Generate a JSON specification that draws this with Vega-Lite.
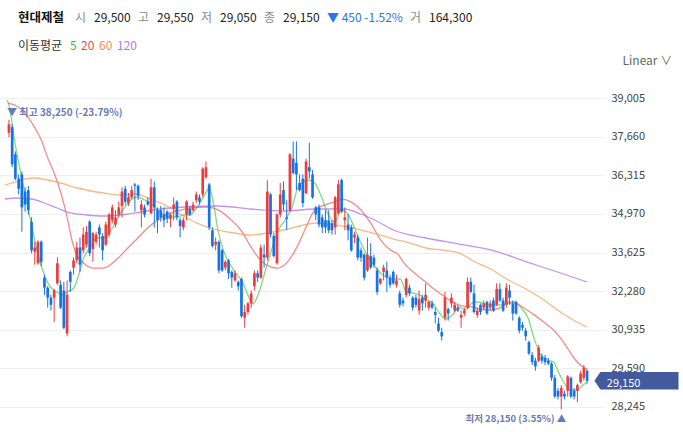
{
  "$schema": "https://vega.github.io/schema/vega-lite/v6.json",
  "description": "현대제철 일봉 차트와 이동평균선",
  "width": 605,
  "height": 350,
  "autosize": {"type": "none"},
  "padding": {"left": 0, "top": 75, "right": 78, "bottom": 7},
  "background": "white",
  "config": {
    "view": {"stroke": null},
    "font": "Noto Sans CJK KR"
  },
  "datasets": {
    "candles": [
      {"d":0,"o":37800,"h":38250,"l":37650,"c":38100},
      {"d":1,"o":38000,"h":38100,"l":36600,"c":36700},
      {"d":2,"o":37050,"h":37150,"l":36150,"c":36200},
      {"d":3,"o":36200,"h":36350,"l":35650,"c":35850},
      {"d":4,"o":36350,"h":36450,"l":34350,"c":35200},
      {"d":5,"o":35750,"h":35900,"l":35050,"c":35300},
      {"d":6,"o":35800,"h":35950,"l":34950,"c":35100},
      {"d":7,"o":34700,"h":34850,"l":33600,"c":33700},
      {"d":8,"o":33650,"h":34000,"l":33200,"c":33800},
      {"d":9,"o":33250,"h":34050,"l":33200,"c":34000},
      {"d":10,"o":34000,"h":34050,"l":33150,"c":33300},
      {"d":11,"o":32750,"h":32850,"l":32150,"c":32400},
      {"d":12,"o":32400,"h":32450,"l":31700,"c":32050},
      {"d":13,"o":32050,"h":32150,"l":31600,"c":31800},
      {"d":14,"o":32050,"h":32350,"l":31200,"c":32300},
      {"d":15,"o":32550,"h":33450,"l":32500,"c":33250},
      {"d":16,"o":32500,"h":32650,"l":31650,"c":31700},
      {"d":17,"o":32300,"h":32600,"l":30950,"c":31000},
      {"d":18,"o":30800,"h":32650,"l":30700,"c":32150},
      {"d":19,"o":32950,"h":33000,"l":32250,"c":32600},
      {"d":20,"o":33100,"h":33450,"l":32850,"c":33350},
      {"d":21,"o":33350,"h":34000,"l":33250,"c":33800},
      {"d":22,"o":33800,"h":34150,"l":32950,"c":33200},
      {"d":23,"o":33700,"h":34500,"l":33600,"c":34250},
      {"d":24,"o":33900,"h":34550,"l":33800,"c":34350},
      {"d":25,"o":34700,"h":34750,"l":33500,"c":33600},
      {"d":26,"o":33750,"h":34350,"l":33300,"c":34300},
      {"d":27,"o":34000,"h":34350,"l":33900,"c":34250},
      {"d":28,"o":34500,"h":34600,"l":33800,"c":34250},
      {"d":29,"o":34200,"h":34300,"l":33350,"c":33700},
      {"d":30,"o":33900,"h":34700,"l":33850,"c":34600},
      {"d":31,"o":34250,"h":35000,"l":34150,"c":34950},
      {"d":32,"o":34750,"h":35300,"l":34650,"c":35200},
      {"d":33,"o":34600,"h":35100,"l":34500,"c":34850},
      {"d":34,"o":34950,"h":35400,"l":34850,"c":35200},
      {"d":35,"o":35250,"h":35900,"l":34850,"c":35750},
      {"d":36,"o":35850,"h":35950,"l":35300,"c":35400},
      {"d":37,"o":35350,"h":35700,"l":35250,"c":35550},
      {"d":38,"o":35550,"h":35950,"l":35500,"c":35800},
      {"d":39,"o":36000,"h":36050,"l":35050,"c":35950},
      {"d":40,"o":35950,"h":36000,"l":35450,"c":35600},
      {"d":41,"o":35100,"h":35450,"l":34500,"c":35300},
      {"d":42,"o":35200,"h":35300,"l":34850,"c":34950},
      {"d":43,"o":35400,"h":35550,"l":35250,"c":35300},
      {"d":44,"o":35000,"h":36200,"l":34950,"c":35900},
      {"d":45,"o":35900,"h":36100,"l":34500,"c":35200},
      {"d":46,"o":35100,"h":35200,"l":34300,"c":34750},
      {"d":47,"o":35100,"h":35250,"l":34700,"c":34850},
      {"d":48,"o":34950,"h":35200,"l":34500,"c":34750},
      {"d":49,"o":35050,"h":35100,"l":34650,"c":34800},
      {"d":50,"o":34800,"h":35000,"l":34500,"c":34950},
      {"d":51,"o":35150,"h":35550,"l":34750,"c":35300},
      {"d":52,"o":35400,"h":35450,"l":34750,"c":34850},
      {"d":53,"o":34750,"h":34850,"l":34150,"c":34550},
      {"d":54,"o":34500,"h":34850,"l":34400,"c":34750},
      {"d":55,"o":34950,"h":35450,"l":34750,"c":35400},
      {"d":56,"o":35150,"h":35250,"l":34900,"c":34950},
      {"d":57,"o":35100,"h":35400,"l":35050,"c":35300},
      {"d":58,"o":35450,"h":35750,"l":35350,"c":35650},
      {"d":59,"o":35550,"h":35650,"l":35300,"c":35400},
      {"d":60,"o":35650,"h":36600,"l":35550,"c":36550},
      {"d":61,"o":36250,"h":36800,"l":36200,"c":36600},
      {"d":62,"o":36000,"h":36050,"l":34400,"c":34500},
      {"d":63,"o":34400,"h":34500,"l":33800,"c":33850},
      {"d":64,"o":33900,"h":34150,"l":33700,"c":34000},
      {"d":65,"o":34000,"h":34050,"l":32900,"c":33000},
      {"d":66,"o":33700,"h":33750,"l":32950,"c":33000},
      {"d":67,"o":33100,"h":33350,"l":33000,"c":33300},
      {"d":68,"o":33350,"h":33400,"l":32700,"c":32900},
      {"d":69,"o":32950,"h":33000,"l":32400,"c":32750},
      {"d":70,"o":32650,"h":33000,"l":32600,"c":32900},
      {"d":71,"o":32600,"h":32650,"l":32300,"c":32450},
      {"d":72,"o":32700,"h":32750,"l":31350,"c":31400},
      {"d":73,"o":31350,"h":31800,"l":31000,"c":31550},
      {"d":74,"o":31550,"h":31900,"l":31450,"c":31850},
      {"d":75,"o":31850,"h":32300,"l":31700,"c":32200},
      {"d":76,"o":32450,"h":33000,"l":32300,"c":32900},
      {"d":77,"o":32900,"h":33000,"l":32600,"c":32750},
      {"d":78,"o":32750,"h":33900,"l":32700,"c":33800},
      {"d":79,"o":33550,"h":33900,"l":33100,"c":33450},
      {"d":80,"o":33450,"h":36150,"l":33350,"c":35750},
      {"d":81,"o":35650,"h":35700,"l":34150,"c":34250},
      {"d":82,"o":34200,"h":34300,"l":33450,"c":33500},
      {"d":83,"o":33250,"h":35000,"l":33200,"c":34950},
      {"d":84,"o":34950,"h":36050,"l":34850,"c":35650},
      {"d":85,"o":35800,"h":36100,"l":35100,"c":35300},
      {"d":86,"o":34850,"h":35450,"l":34400,"c":34800},
      {"d":87,"o":35100,"h":37100,"l":35050,"c":37050},
      {"d":88,"o":36900,"h":37500,"l":36350,"c":36400},
      {"d":89,"o":36750,"h":37500,"l":35800,"c":36350},
      {"d":90,"o":36050,"h":36350,"l":35750,"c":35800},
      {"d":91,"o":36200,"h":36350,"l":35200,"c":35350},
      {"d":92,"o":35700,"h":36900,"l":35650,"c":36800},
      {"d":93,"o":36600,"h":37450,"l":36200,"c":36450},
      {"d":94,"o":36350,"h":36500,"l":35500,"c":35550},
      {"d":95,"o":35200,"h":35250,"l":34750,"c":34950},
      {"d":96,"o":35200,"h":35300,"l":34500,"c":34600},
      {"d":97,"o":34850,"h":34950,"l":34300,"c":34500},
      {"d":98,"o":34750,"h":35100,"l":34300,"c":34500},
      {"d":99,"o":34750,"h":35100,"l":34300,"c":34400},
      {"d":100,"o":34650,"h":34750,"l":34250,"c":34400},
      {"d":101,"o":34500,"h":35600,"l":34250,"c":35550},
      {"d":102,"o":35000,"h":36150,"l":34950,"c":36000},
      {"d":103,"o":36150,"h":36200,"l":35000,"c":35050},
      {"d":104,"o":34750,"h":35200,"l":34400,"c":34850},
      {"d":105,"o":34600,"h":34950,"l":34050,"c":34400},
      {"d":106,"o":34500,"h":34600,"l":33650,"c":33700},
      {"d":107,"o":34150,"h":34350,"l":33950,"c":34250},
      {"d":108,"o":34150,"h":34250,"l":33350,"c":33450},
      {"d":109,"o":33700,"h":33800,"l":33300,"c":33450},
      {"d":110,"o":33550,"h":33600,"l":32650,"c":32750},
      {"d":111,"o":33000,"h":34150,"l":32950,"c":33550},
      {"d":112,"o":33500,"h":33950,"l":33050,"c":33100},
      {"d":113,"o":33450,"h":33550,"l":33100,"c":33200},
      {"d":114,"o":33000,"h":33100,"l":32150,"c":32250},
      {"d":115,"o":32550,"h":32750,"l":32500,"c":32700},
      {"d":116,"o":32950,"h":33200,"l":32650,"c":33100},
      {"d":117,"o":33000,"h":33300,"l":32250,"c":32750},
      {"d":118,"o":32750,"h":32850,"l":32400,"c":32500},
      {"d":119,"o":32950,"h":33000,"l":32500,"c":32550},
      {"d":120,"o":32500,"h":32850,"l":32400,"c":32650},
      {"d":121,"o":32200,"h":32300,"l":31700,"c":31800},
      {"d":122,"o":31950,"h":32050,"l":31750,"c":31850},
      {"d":123,"o":32150,"h":32750,"l":32050,"c":32700},
      {"d":124,"o":32400,"h":32500,"l":32100,"c":32200},
      {"d":125,"o":32050,"h":32100,"l":31600,"c":31700},
      {"d":126,"o":32050,"h":32150,"l":31700,"c":31800},
      {"d":127,"o":31600,"h":32300,"l":31450,"c":32000},
      {"d":128,"o":32050,"h":32150,"l":31600,"c":31850},
      {"d":129,"o":31950,"h":32550,"l":31700,"c":32150},
      {"d":130,"o":31700,"h":31950,"l":31600,"c":31900},
      {"d":131,"o":31850,"h":31950,"l":31650,"c":31700},
      {"d":132,"o":31550,"h":31700,"l":31150,"c":31450},
      {"d":133,"o":31150,"h":31350,"l":30850,"c":30900},
      {"d":134,"o":30850,"h":31000,"l":30550,"c":30700},
      {"d":135,"o":31350,"h":32250,"l":31250,"c":32050},
      {"d":136,"o":31650,"h":31700,"l":31250,"c":31500},
      {"d":137,"o":31850,"h":32200,"l":31700,"c":32050},
      {"d":138,"o":31600,"h":31900,"l":31550,"c":31800},
      {"d":139,"o":31700,"h":31800,"l":31550,"c":31600},
      {"d":140,"o":31350,"h":31600,"l":31000,"c":31450},
      {"d":141,"o":31500,"h":31700,"l":31400,"c":31600},
      {"d":142,"o":31700,"h":32750,"l":31650,"c":32600},
      {"d":143,"o":32600,"h":32750,"l":32200,"c":32250},
      {"d":144,"o":32200,"h":32500,"l":31500,"c":31550},
      {"d":145,"o":31450,"h":31700,"l":31350,"c":31600},
      {"d":146,"o":31800,"h":31850,"l":31450,"c":31550},
      {"d":147,"o":31700,"h":31950,"l":31600,"c":31850},
      {"d":148,"o":31900,"h":31950,"l":31450,"c":31500},
      {"d":149,"o":31700,"h":31950,"l":31600,"c":31850},
      {"d":150,"o":31950,"h":32050,"l":31550,"c":31600},
      {"d":151,"o":31800,"h":32550,"l":31750,"c":32350},
      {"d":152,"o":32350,"h":32550,"l":31900,"c":31950},
      {"d":153,"o":31950,"h":32050,"l":31550,"c":31600},
      {"d":154,"o":31800,"h":32550,"l":31700,"c":32400},
      {"d":155,"o":32300,"h":32500,"l":31800,"c":32050},
      {"d":156,"o":31850,"h":31950,"l":31250,"c":31500},
      {"d":157,"o":31900,"h":31950,"l":31450,"c":31500},
      {"d":158,"o":31350,"h":31400,"l":30800,"c":30900},
      {"d":159,"o":31100,"h":31200,"l":30900,"c":31000},
      {"d":160,"o":30900,"h":31000,"l":30550,"c":30700},
      {"d":161,"o":30500,"h":30550,"l":30050,"c":30100},
      {"d":162,"o":30050,"h":30150,"l":29700,"c":29800},
      {"d":163,"o":29850,"h":29950,"l":29500,"c":29650},
      {"d":164,"o":29850,"h":30400,"l":29800,"c":30300},
      {"d":165,"o":30000,"h":30100,"l":29750,"c":29850},
      {"d":166,"o":29950,"h":30050,"l":29700,"c":29800},
      {"d":167,"o":29850,"h":29950,"l":29700,"c":29750},
      {"d":168,"o":29750,"h":29800,"l":29150,"c":29250},
      {"d":169,"o":29250,"h":29350,"l":28550,"c":28600},
      {"d":170,"o":28800,"h":28900,"l":28500,"c":28600},
      {"d":171,"o":28600,"h":29000,"l":28150,"c":28900},
      {"d":172,"o":28700,"h":28800,"l":28500,"c":28600},
      {"d":173,"o":28800,"h":29350,"l":28600,"c":29300},
      {"d":174,"o":29250,"h":29300,"l":28550,"c":28600},
      {"d":175,"o":28800,"h":28900,"l":28500,"c":28600},
      {"d":176,"o":28800,"h":29050,"l":28400,"c":29000},
      {"d":177,"o":29100,"h":29500,"l":29050,"c":29400},
      {"d":178,"o":29250,"h":29700,"l":29150,"c":29600},
      {"d":179,"o":29500,"h":29550,"l":29050,"c":29150}
    ],
    "ma": [
      {"m":"5","d":-0.61,"v":38946},{"m":"5","d":0,"v":38771},{"m":"5","d":1.83,"v":37480},{"m":"5","d":3.96,"v":36224},
      {"m":"5","d":7.0,"v":34584},{"m":"5","d":8.83,"v":33643},{"m":"5","d":10.96,"v":32840},{"m":"5","d":13.09,"v":32387},
      {"m":"5","d":14.92,"v":32247},{"m":"5","d":16.44,"v":32142},{"m":"5","d":17.96,"v":32247},{"m":"5","d":20.09,"v":32387},
      {"m":"5","d":21.61,"v":32840},{"m":"5","d":23.14,"v":33433},{"m":"5","d":25.27,"v":33817},{"m":"5","d":27.09,"v":34131},
      {"m":"5","d":29.22,"v":34131},{"m":"5","d":31.66,"v":34410},{"m":"5","d":33.79,"v":34864},{"m":"5","d":35.92,"v":35213},
      {"m":"5","d":37.75,"v":35457},{"m":"5","d":39.88,"v":35561},{"m":"5","d":42.01,"v":35457},{"m":"5","d":43.84,"v":35352},
      {"m":"5","d":45.97,"v":35108},{"m":"5","d":48.1,"v":34934},{"m":"5","d":49.92,"v":34864},{"m":"5","d":52.05,"v":34864},
      {"m":"5","d":54.19,"v":34934},{"m":"5","d":56.01,"v":34934},{"m":"5","d":58.14,"v":35178},{"m":"5","d":60.27,"v":35561},
      {"m":"5","d":62.1,"v":35875},{"m":"5","d":63.32,"v":35352},{"m":"5","d":64.54,"v":34515},{"m":"5","d":66.36,"v":33712},
      {"m":"5","d":68.19,"v":33259},{"m":"5","d":70.32,"v":32910},{"m":"5","d":72.45,"v":32561},{"m":"5","d":74.28,"v":32072},
      {"m":"5","d":75.49,"v":31828},{"m":"5","d":77.32,"v":32212},{"m":"5","d":79.45,"v":33014},{"m":"5","d":81.58,"v":33817},
      {"m":"5","d":83.41,"v":34410},{"m":"5","d":85.54,"v":34759},{"m":"5","d":87.67,"v":35213},{"m":"5","d":89.5,"v":35910},
      {"m":"5","d":90.72,"v":36050},{"m":"5","d":92.54,"v":36155},{"m":"5","d":94.67,"v":36050},{"m":"5","d":96.8,"v":35561},
      {"m":"5","d":98.63,"v":35004},{"m":"5","d":100.76,"v":34689},{"m":"5","d":101.67,"v":34829},{"m":"5","d":102.89,"v":35108},
      {"m":"5","d":104.72,"v":35004},{"m":"5","d":106.85,"v":34515},{"m":"5","d":108.98,"v":33957},{"m":"5","d":110.81,"v":33538},
      {"m":"5","d":112.94,"v":33189},{"m":"5","d":115.07,"v":32910},{"m":"5","d":116.89,"v":32770},{"m":"5","d":119.03,"v":32701},
      {"m":"5","d":121.16,"v":32701},{"m":"5","d":122.98,"v":32247},{"m":"5","d":125.11,"v":32212},{"m":"5","d":127.24,"v":32142},
      {"m":"5","d":129.07,"v":31968},{"m":"5","d":131.2,"v":31863},{"m":"5","d":133.33,"v":31514},{"m":"5","d":135.16,"v":31305},
      {"m":"5","d":137.29,"v":31445},{"m":"5","d":139.42,"v":31724},{"m":"5","d":141.25,"v":31619},{"m":"5","d":143.38,"v":31863},
      {"m":"5","d":145.51,"v":31898},{"m":"5","d":147.34,"v":31828},{"m":"5","d":149.47,"v":31794},{"m":"5","d":152.51,"v":31794},
      {"m":"5","d":154.64,"v":31898},{"m":"5","d":156.47,"v":31898},{"m":"5","d":158.6,"v":31689},{"m":"5","d":160.73,"v":31340},
      {"m":"5","d":162.56,"v":30642},{"m":"5","d":164.69,"v":30049},{"m":"5","d":166.82,"v":29874},{"m":"5","d":168.64,"v":29804},
      {"m":"5","d":169.86,"v":29525},{"m":"5","d":171.69,"v":29107},{"m":"5","d":173.82,"v":28828},{"m":"5","d":175.95,"v":28828},
      {"m":"5","d":177.78,"v":29002},{"m":"5","d":179,"v":29107},
      {"m":"20","d":-0.3,"v":38840},{"m":"20","d":1.8,"v":38770},{"m":"20","d":4.9,"v":38490},{"m":"20","d":7.9,"v":38000},
      {"m":"20","d":10,"v":37550},{"m":"20","d":11.9,"v":36960},{"m":"20","d":14,"v":36400},{"m":"20","d":16.1,"v":35700},
      {"m":"20","d":18,"v":34860},{"m":"20","d":19.5,"v":34060},{"m":"20","d":20.7,"v":33610},{"m":"20","d":23.1,"v":33260},
      {"m":"20","d":26.2,"v":33080},{"m":"20","d":29.2,"v":33080},{"m":"20","d":33.8,"v":33430},{"m":"20","d":36.8,"v":33780},
      {"m":"20","d":39.9,"v":34130},{"m":"20","d":42.9,"v":34480},{"m":"20","d":46,"v":34760},{"m":"20","d":49,"v":34970},
      {"m":"20","d":52,"v":35070},{"m":"20","d":56.6,"v":35180},{"m":"20","d":61.2,"v":35210},{"m":"20","d":64.8,"v":35110},
      {"m":"20","d":68.8,"v":34760},{"m":"20","d":71.8,"v":34410},{"m":"20","d":74.9,"v":33820},{"m":"20","d":77.9,"v":33360},
      {"m":"20","d":81,"v":33120},{"m":"20","d":83.1,"v":33080},{"m":"20","d":86.2,"v":33290},{"m":"20","d":89.2,"v":33820},
      {"m":"20","d":91.6,"v":34410},{"m":"20","d":94.7,"v":35110},{"m":"20","d":97.7,"v":35280},{"m":"20","d":100.8,"v":35390},
      {"m":"20","d":103.2,"v":35490},{"m":"20","d":105.9,"v":35390},{"m":"20","d":109,"v":35110},{"m":"20","d":112,"v":34650},
      {"m":"20","d":115.1,"v":34060},{"m":"20","d":118.1,"v":33710},{"m":"20","d":120.6,"v":33540},{"m":"20","d":122.1,"v":33290},
      {"m":"20","d":125.1,"v":32950},{"m":"20","d":128.2,"v":32670},{"m":"20","d":131.2,"v":32390},{"m":"20","d":134.2,"v":32140},
      {"m":"20","d":137.3,"v":31900},{"m":"20","d":140.3,"v":31760},{"m":"20","d":143.4,"v":31720},{"m":"20","d":146.4,"v":31650},
      {"m":"20","d":149.5,"v":31620},{"m":"20","d":152.5,"v":31720},{"m":"20","d":154.6,"v":31860},{"m":"20","d":156.5,"v":31860},
      {"m":"20","d":159.5,"v":31690},{"m":"20","d":162.6,"v":31450},{"m":"20","d":165.6,"v":31200},{"m":"20","d":168.6,"v":30920},
      {"m":"20","d":171.7,"v":30500},{"m":"20","d":174.7,"v":29980},{"m":"20","d":176.9,"v":29700},{"m":"20","d":179,"v":29560},
      {"m":"60","d":-1.22,"v":35980},{"m":"60","d":1.83,"v":36085},{"m":"60","d":4.87,"v":36190},{"m":"60","d":7.91,"v":36224},
      {"m":"60","d":11.87,"v":36155},{"m":"60","d":16.13,"v":36050},{"m":"60","d":20.09,"v":35910},{"m":"60","d":24.05,"v":35806},
      {"m":"60","d":29.22,"v":35701},{"m":"60","d":34.4,"v":35631},{"m":"60","d":39.27,"v":35666},{"m":"60","d":44.44,"v":35457},
      {"m":"60","d":49.62,"v":35213},{"m":"60","d":54.49,"v":34864},{"m":"60","d":59.67,"v":34584},{"m":"60","d":64.84,"v":34410},
      {"m":"60","d":69.71,"v":34305},{"m":"60","d":74.89,"v":34236},{"m":"60","d":80.06,"v":34305},{"m":"60","d":84.93,"v":34410},
      {"m":"60","d":90.11,"v":34550},{"m":"60","d":95.28,"v":34654},{"m":"60","d":100.15,"v":34584},{"m":"60","d":105.33,"v":34515},
      {"m":"60","d":108.98,"v":34410},{"m":"60","d":113.85,"v":34270},{"m":"60","d":119.03,"v":34096},{"m":"60","d":124.2,"v":33956},
      {"m":"60","d":129.07,"v":33782},{"m":"60","d":134.25,"v":33712},{"m":"60","d":139.42,"v":33607},{"m":"60","d":144.29,"v":33294},
      {"m":"60","d":148.55,"v":33084},{"m":"60","d":154.64,"v":32666},{"m":"60","d":159.51,"v":32387},{"m":"60","d":164.69,"v":32037},
      {"m":"60","d":169.86,"v":31619},{"m":"60","d":174.73,"v":31270},{"m":"60","d":179,"v":31026},
      {"m":"120","d":-1.22,"v":35492},{"m":"120","d":2.74,"v":35527},{"m":"120","d":7.0,"v":35492},{"m":"120","d":10.96,"v":35352},
      {"m":"120","d":14.92,"v":35178},{"m":"120","d":19.18,"v":35004},{"m":"120","d":24.05,"v":34934},{"m":"120","d":29.22,"v":34899},
      {"m":"120","d":34.4,"v":34934},{"m":"120","d":39.27,"v":35004},{"m":"120","d":44.44,"v":35108},{"m":"120","d":54.49,"v":35213},
      {"m":"120","d":64.84,"v":35248},{"m":"120","d":74.89,"v":35143},{"m":"120","d":84.93,"v":35073},{"m":"120","d":95.28,"v":35143},
      {"m":"120","d":103.81,"v":35143},{"m":"120","d":108.98,"v":34968},{"m":"120","d":113.85,"v":34724},{"m":"120","d":119.03,"v":34410},
      {"m":"120","d":129.07,"v":34131},{"m":"120","d":139.42,"v":33921},{"m":"120","d":149.47,"v":33712},{"m":"120","d":159.51,"v":33328},
      {"m":"120","d":169.86,"v":32945},{"m":"120","d":179,"v":32596}
    ],
    "hdr": [
      {"t":"시"},{"t":"29,500"},{"t":"고"},{"t":"29,550"},{"t":"저"},{"t":"29,050"},
      {"t":"종"},{"t":"29,150"},{"t":"▼ 450 -1.52%"},{"t":"거"},{"t":"164,300"}
    ],
    "notes": [
      {"k":"hi","d":0,"v":38250,"t":"▼ 최고 38,250 (-23.79%)"},
      {"k":"lo","d":171,"v":28150,"t":"최저 28,150 (3.55%) ▲"}
    ],
    "last": [
      {"v":29150,"t":"29,150"}
    ]
  },
  "layer": [
    {
      "data": {"name": "ma"},
      "mark": {"type": "line", "interpolate": "monotone", "strokeWidth": 1.3, "opacity": 0.7},
      "encoding": {
        "x": {"field": "d", "type": "quantitative", "scale": {"domain": [-1.22, 183], "nice": false, "zero": false}, "axis": null},
        "y": {
          "field": "v", "type": "quantitative",
          "scale": {"domain": [27607, 39818], "nice": false, "zero": false},
          "axis": {
            "orient": "right",
            "values": [28245, 29590, 30935, 32280, 33625, 34970, 36315, 37660, 39005],
            "format": ",d",
            "grid": true, "gridColor": "#eeeeee", "gridWidth": 1,
            "ticks": false, "domain": false,
            "labelPadding": 6, "labelFontSize": 11, "labelColor": "#444444",
            "title": "Linear  ∨", "titleAngle": 0, "titleX": 17, "titleY": -15,
            "titleAlign": "left", "titleBaseline": "middle",
            "titleFontWeight": "normal", "titleFontSize": 12, "titleColor": "#666666"
          }
        },
        "color": {
          "field": "m", "type": "nominal",
          "scale": {"domain": ["5", "20", "60", "120"], "range": ["#4cc94c", "#f05a5a", "#f79a55", "#a865ee"]},
          "legend": {
            "orient": "none", "legendX": 18, "legendY": -35,
            "direction": "horizontal",
            "title": "이동평균", "titleOrient": "left", "titleFontSize": 12,
            "titleFontWeight": "normal", "titleColor": "#333333", "titlePadding": 7,
            "labelFontSize": 12,
            "labelColor": {"expr": "datum.value == '5' ? '#3cc03c' : datum.value == '20' ? '#f04848' : datum.value == '60' ? '#f7904a' : '#b07cf0'"},
            "symbolType": "circle", "symbolSize": 0, "symbolStrokeWidth": 0, "symbolOpacity": 0,
            "labelOffset": -12, "columnPadding": 4
          }
        }
      }
    },
    {
      "data": {"name": "candles"},
      "mark": {"type": "rule", "strokeWidth": 1},
      "encoding": {
        "x": {"field": "d", "type": "quantitative", "scale": {"domain": [-1.22, 183], "nice": false, "zero": false}, "axis": null},
        "y": {"field": "l", "type": "quantitative", "scale": {"domain": [27607, 39818], "nice": false, "zero": false}},
        "y2": {"field": "h"},
        "color": {"condition": {"test": "datum.c >= datum.o", "value": "#ee3b3b"}, "value": "#1673e6"}
      }
    },
    {
      "data": {"name": "candles"},
      "mark": {"type": "bar", "width": 2.7},
      "encoding": {
        "x": {"field": "d", "type": "quantitative", "scale": {"domain": [-1.22, 183], "nice": false, "zero": false}, "axis": null},
        "y": {"field": "o", "type": "quantitative", "scale": {"domain": [27607, 39818], "nice": false, "zero": false}},
        "y2": {"field": "c"},
        "color": {"condition": {"test": "datum.c >= datum.o", "value": "#ee3b3b"}, "value": "#1673e6"}
      }
    },
    {
      "data": {"name": "hdr"},
      "mark": {"type": "point", "opacity": 0, "size": 0},
      "encoding": {
        "shape": {
          "field": "t", "type": "nominal",
          "scale": {"domain": ["시", "29,500", "고", "29,550", "저", "29,050", "종", "29,150", "▼ 450 -1.52%", "거", "164,300"]},
          "legend": {
            "orient": "none", "legendX": 18, "legendY": -63,
            "direction": "horizontal",
            "title": "현대제철", "titleOrient": "left", "titleFontSize": 12.5,
            "titleFontWeight": "bold", "titleColor": "#111111", "titlePadding": 10,
            "labelFontSize": 12,
            "labelColor": {"expr": "indexof(['시','고','저','종','거'], datum.value) >= 0 ? '#8a8a8a' : (indexof(datum.value, '▼') >= 0 ? '#2b78e4' : '#222222')"},
            "symbolSize": 0, "symbolStrokeWidth": 0, "symbolOpacity": 0,
            "labelOffset": -12, "columnPadding": 7
          }
        }
      }
    },
    {
      "data": {"name": "notes"},
      "transform": [{"filter": "datum.k == 'hi'"}],
      "mark": {"type": "text", "align": "left", "baseline": "middle", "dx": -2, "dy": -7, "fontSize": 10, "fontWeight": "bold", "color": "#6a7bb4"},
      "encoding": {
        "x": {"field": "d", "type": "quantitative", "scale": {"domain": [-1.22, 183], "nice": false, "zero": false}, "axis": null},
        "y": {"field": "v", "type": "quantitative", "scale": {"domain": [27607, 39818], "nice": false, "zero": false}},
        "text": {"field": "t"}
      }
    },
    {
      "data": {"name": "notes"},
      "transform": [{"filter": "datum.k == 'lo'"}],
      "mark": {"type": "text", "align": "right", "baseline": "middle", "dx": 5, "dy": 10, "fontSize": 9.5, "fontWeight": "bold", "color": "#6a7bb4"},
      "encoding": {
        "x": {"field": "d", "type": "quantitative", "scale": {"domain": [-1.22, 183], "nice": false, "zero": false}, "axis": null},
        "y": {"field": "v", "type": "quantitative", "scale": {"domain": [27607, 39818], "nice": false, "zero": false}},
        "text": {"field": "t"}
      }
    },
    {
      "data": {"name": "last"},
      "mark": {"type": "point", "filled": true, "opacity": 1, "color": "#435a9c", "size": 7056,
               "shape": "M-1,0L-0.86,-0.21L1,-0.21L1,0.21L-0.86,0.21Z"},
      "encoding": {
        "x": {"datum": 194.3, "type": "quantitative", "scale": {"domain": [-1.22, 183], "nice": false, "zero": false}, "axis": null},
        "y": {"field": "v", "type": "quantitative", "scale": {"domain": [27607, 39818], "nice": false, "zero": false}}
      }
    },
    {
      "data": {"name": "last"},
      "mark": {"type": "text", "align": "left", "baseline": "middle", "dy": 3, "fontSize": 11, "color": "white"},
      "encoding": {
        "x": {"datum": 185.1, "type": "quantitative", "scale": {"domain": [-1.22, 183], "nice": false, "zero": false}, "axis": null},
        "y": {"field": "v", "type": "quantitative", "scale": {"domain": [27607, 39818], "nice": false, "zero": false}},
        "text": {"field": "t"}
      }
    }
  ]
}
